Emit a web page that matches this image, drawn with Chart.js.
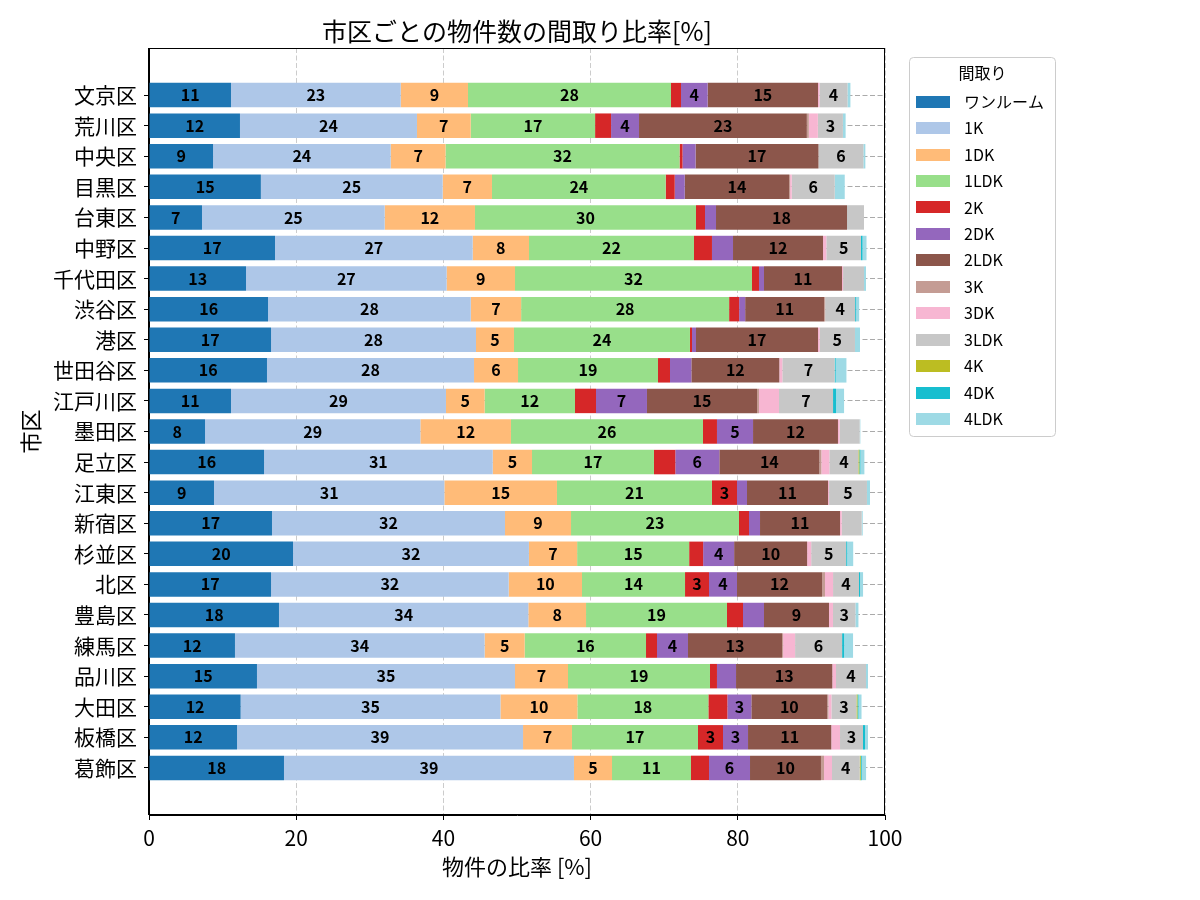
<!DOCTYPE html>
<html lang="ja">
<head>
<meta charset="utf-8">
<title>市区ごとの物件数の間取り比率</title>
<script src="https://cdn.jsdelivr.net/npm/chart.js@4"></script>
<style>
  body { margin: 0; background: #fff; }
  canvas { display: block; }
</style>
</head>
<body>
<canvas id="chart" width="1200" height="900"></canvas>
<script>
// 市区 (top to bottom)
const wards = ['文京区', '荒川区', '中央区', '目黒区', '台東区', '中野区', '千代田区', '渋谷区', '港区', '世田谷区',
  '江戸川区', '墨田区', '足立区', '江東区', '新宿区', '杉並区', '北区', '豊島区', '練馬区', '品川区', '大田区', '板橋区', '葛飾区'];

// 間取り
const layouts = ['ワンルーム', '1K', '1DK', '1LDK', '2K', '2DK', '2LDK', '3K', '3DK', '3LDK', '4K', '4DK', '4LDK'];
const colors = ['#1f77b4', '#aec7e8', '#ffbb78', '#98df8a', '#d62728', '#9467bd', '#8c564b',
  '#c49c94', '#f7b6d2', '#c7c7c7', '#bcbd22', '#17becf', '#9edae5'];

// ratio [%] per layout, one value per ward
const oneRoom = [11.14, 12.36, 8.7, 15.2, 7.2, 17.12, 13.18, 16.17, 16.58, 16.03, 11.14, 7.61, 15.63, 8.83, 16.71, 19.57, 16.58, 17.66, 11.68, 14.67, 12.45, 11.96, 18.34];
const k1 = [23.06, 24.05, 24.14, 24.7, 24.82, 26.86, 27.26, 27.55, 27.85, 28.13, 29.21, 29.26, 31.07, 31.3, 31.66, 32.05, 32.29, 33.88, 33.92, 35.06, 35.3, 38.86, 39.4];
const dk1 = [9.14, 7.3, 7.45, 6.7, 12.27, 7.65, 9.29, 6.84, 5.16, 5.98, 5.25, 12.31, 5.34, 15.3, 8.97, 6.55, 9.96, 7.84, 5.44, 7.2, 10.45, 6.65, 5.17];
const ldk1 = [27.58, 16.9, 31.8, 23.6, 30.03, 22.42, 32.2, 28.26, 23.91, 19.02, 12.28, 26.09, 16.57, 21.06, 22.82, 15.22, 14.0, 19.15, 16.49, 19.29, 17.8, 17.12, 10.73];
const k2 = [1.36, 2.17, 0.4, 1.23, 1.22, 2.44, 0.95, 1.36, 0.28, 1.63, 2.85, 1.9, 2.9, 3.4, 1.36, 1.9, 3.26, 2.18, 1.49, 0.95, 2.58, 3.4, 2.45];
const dk2 = [3.62, 3.8, 1.77, 1.36, 1.5, 2.86, 0.68, 0.82, 0.54, 2.9, 6.93, 4.9, 5.98, 1.36, 1.5, 4.21, 3.8, 2.85, 4.21, 2.59, 3.26, 3.4, 5.57];
const ldk2 = [15.0, 22.8, 16.7, 14.17, 17.8, 12.23, 10.6, 10.73, 16.58, 11.95, 14.95, 11.54, 13.59, 11.01, 10.87, 9.92, 11.55, 8.83, 12.78, 13.08, 10.33, 11.31, 9.64];
const k3 = [0, 0.27, 0, 0.14, 0, 0, 0, 0.14, 0, 0, 0.27, 0, 0.27, 0, 0, 0, 0.41, 0, 0.14, 0, 0.14, 0, 0.41];
const dk3 = [0.2, 1.23, 0, 0.23, 0, 0.45, 0.14, 0, 0.23, 0.41, 2.72, 0.23, 1.09, 0.14, 0.23, 0.55, 1.09, 0.54, 1.63, 0.5, 0.41, 1.19, 1.09];
const ldk3 = [3.8, 3.4, 6.1, 5.84, 2.31, 4.7, 2.85, 4.07, 4.79, 7.11, 7.34, 2.72, 3.94, 5.15, 2.71, 4.75, 3.53, 3.05, 6.39, 4.08, 3.4, 3.12, 3.76];
const k4 = [0, 0, 0, 0, 0, 0, 0, 0, 0, 0, 0, 0, 0.14, 0, 0, 0, 0, 0, 0, 0, 0.14, 0, 0.14];
const dk4 = [0, 0, 0, 0, 0, 0.22, 0, 0.14, 0, 0.14, 0.41, 0, 0.14, 0, 0, 0.14, 0.14, 0, 0.27, 0, 0.14, 0.27, 0.14];
const ldk4 = [0.4, 0.37, 0.27, 1.36, 0, 0.54, 0.27, 0.41, 0.68, 1.46, 1.09, 0.09, 0.54, 0.41, 0.14, 0.82, 0.41, 0.41, 1.22, 0.27, 0.41, 0.41, 0.59];

const series = [oneRoom, k1, dk1, ldk1, k2, dk2, ldk2, k3, dk3, ldk3, k4, dk4, ldk4];

const FONT = '"Noto Sans CJK JP", "Noto Sans", sans-serif';
Chart.defaults.font.family = FONT;
Chart.defaults.color = '#000';

// value labels in the middle of each segment (only 3% and up)
const barLabels = {
  id: 'barLabels',
  afterDatasetsDraw(chart) {
    const ctx = chart.ctx;
    ctx.save();
    ctx.font = 'bold 16px ' + FONT;
    ctx.fillStyle = '#000';
    ctx.textAlign = 'center';
    ctx.textBaseline = 'middle';
    chart.data.datasets.forEach((ds, i) => {
      chart.getDatasetMeta(i).data.forEach((bar, j) => {
        const v = ds.data[j];
        if (v < 3) return;
        ctx.fillText(Math.round(v), (bar.x + bar.base) / 2, bar.y);
      });
    });
    ctx.restore();
  }
};

// box around the plot + legend on the right
const frameAndLegend = {
  id: 'frameAndLegend',
  afterDraw(chart) {
    const ctx = chart.ctx;
    const a = chart.chartArea;
    ctx.save();
    ctx.strokeStyle = '#000';
    ctx.lineWidth = 1;
    ctx.strokeRect(Math.round(a.left) - 0.5, Math.round(a.top) + 0.5,
      Math.round(a.right - a.left), Math.round(a.bottom - a.top) - 1);

    const lx = a.right + 24.5, ly = 57.5;
    ctx.beginPath();
    ctx.roundRect(lx, ly, 146, 379, 4);
    ctx.fillStyle = 'rgba(255,255,255,0.8)';
    ctx.fill();
    ctx.strokeStyle = '#cccccc';
    ctx.stroke();

    ctx.font = '16px ' + FONT;
    ctx.fillStyle = '#000';
    ctx.textAlign = 'center';
    ctx.textBaseline = 'middle';
    ctx.fillText('間取り', lx + 73, 73);
    ctx.textAlign = 'left';
    layouts.forEach((name, i) => {
      const cy = 101.7 + i * 26.44;
      ctx.fillStyle = colors[i];
      ctx.fillRect(lx + 6.5, Math.round(cy - 6), 34, 12);
      ctx.fillStyle = '#000';
      ctx.fillText(name, lx + 54.5, cy);
    });
    ctx.restore();
  }
};

new Chart(document.getElementById('chart'), {
  type: 'bar',
  data: {
    labels: wards.map((w, i) => i),
    datasets: layouts.map((name, i) => ({
      label: name,
      data: series[i],
      backgroundColor: colors[i],
      borderWidth: 0,
      barPercentage: 0.8,
      categoryPercentage: 1.0
    }))
  },
  options: {
    indexAxis: 'y',
    responsive: false,
    animation: false,
    layout: { padding: { left: 0, right: 315, top: 0, bottom: 0 } },
    plugins: {
      legend: { display: false },
      tooltip: { enabled: false },
      title: {
        display: true,
        text: '市区ごとの物件数の間取り比率[%]',
        fullSize: false,
        font: { size: 25, weight: 'normal' },
        color: '#000',
        padding: { top: 16, bottom: 2 }
      }
    },
    scales: {
      x: {
        type: 'linear',
        stacked: true,
        min: 0,
        max: 100,
        z: 1,
        ticks: { stepSize: 20, font: { size: 21 }, padding: 5, color: '#000' },
        grid: { color: '#cccccc', tickColor: '#000', tickLength: 5, tickBorderDash: [] },
        border: { color: '#000', width: 1, dash: [5, 2.5] },
        title: { display: true, text: '物件の比率 [%]', font: { size: 22 }, color: '#000', padding: { top: 0, bottom: 20 } },
        afterFit(s) { s.height = 85; }
      },
      y: {
        type: 'linear',
        stacked: true,
        reverse: true,
        offset: false,
        min: -1.54,
        max: 23.54,
        z: 1,
        afterBuildTicks(s) { s.ticks = wards.map((w, i) => ({ value: i })); },
        ticks: { callback: v => wards[v], font: { size: 21 }, padding: 7, color: '#000', autoSkip: false },
        grid: { offset: false, color: '#aaaaaa', tickColor: '#000', tickLength: 5, tickBorderDash: [] },
        border: { color: '#000', width: 1, dash: [5, 2.5] },
        title: { display: true, text: '市区', font: { size: 22 }, color: '#000', padding: { top: 17, bottom: 0 } },
        afterFit(s) { s.width = 149; }
      }
    }
  },
  plugins: [barLabels, frameAndLegend]
});
</script>
</body>
</html>
